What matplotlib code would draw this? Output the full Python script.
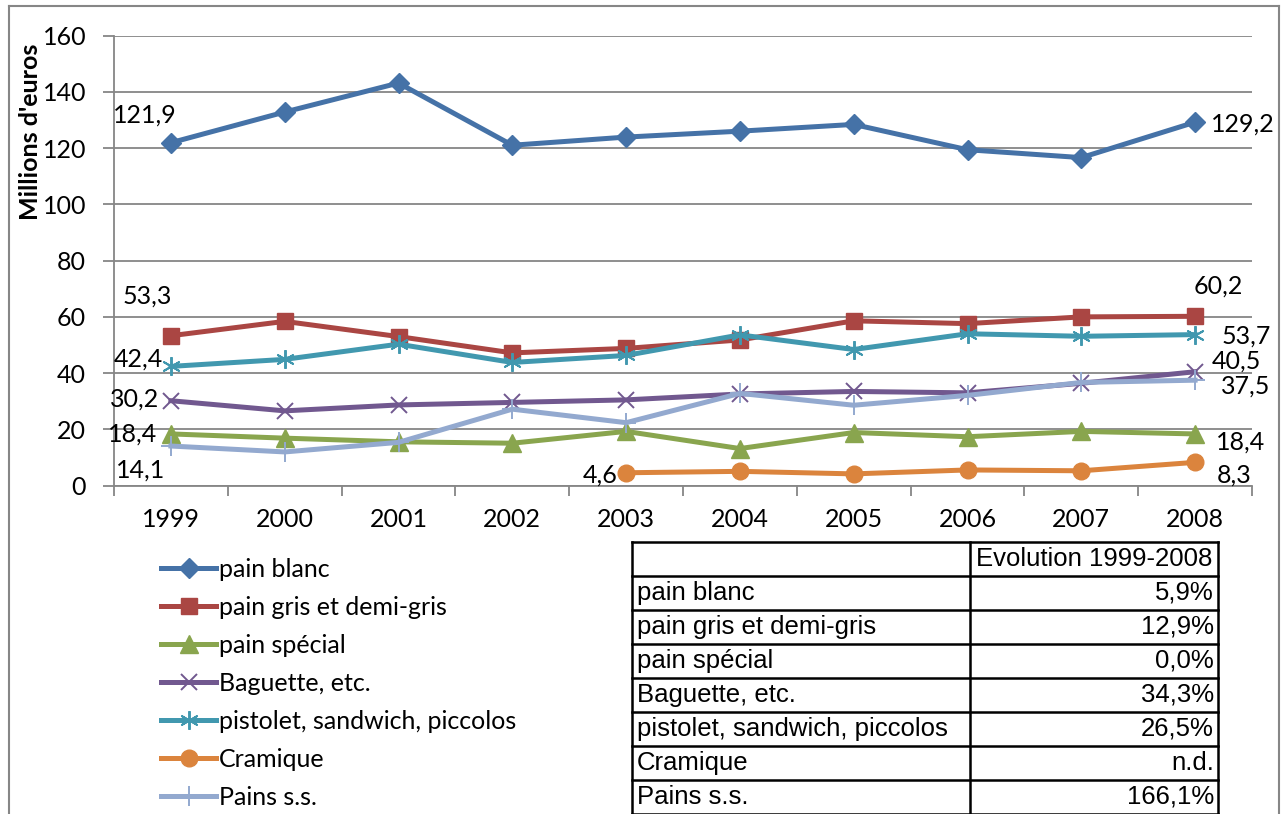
import numpy as np
import matplotlib.pyplot as plt
from matplotlib.lines import Line2D

# ---- data ----
years = [1999, 2000, 2001, 2002, 2003, 2004, 2005, 2006, 2007, 2008]
pain_blanc = [121.9, 132.8, 143.1, 121.0, 123.9, 126.0, 128.4, 119.4, 116.6, 129.2]
pain_gris = [53.3, 58.4, 53.0, 47.2, 48.8, 51.8, 58.6, 57.6, 60.0, 60.2]
pain_special = [18.4, 16.9, 15.6, 15.1, 19.3, 13.2, 18.9, 17.4, 19.3, 18.4]
baguette = [30.2, 26.6, 28.7, 29.6, 30.5, 32.6, 33.5, 33.0, 36.4, 40.5]
pistolet = [42.4, 44.9, 50.3, 43.8, 46.3, 53.6, 48.4, 54.0, 53.1, 53.7]
cramique = [np.nan, np.nan, np.nan, np.nan, 4.6, 5.1, 4.2, 5.6, 5.3, 8.3]
pains_ss = [14.1, 12.0, 15.4, 27.2, 22.4, 32.8, 28.6, 32.1, 36.7, 37.5]

names = ["pain blanc", "pain gris et demi-gris", "pain spécial", "Baguette, etc.",
         "pistolet, sandwich, piccolos", "Cramique", "Pains s.s."]
evolution = ["5,9%", "12,9%", "0,0%", "34,3%", "26,5%", "n.d.", "166,1%"]
table_header = "Evolution 1999-2008"

series = [pain_blanc, pain_gris, pain_special, baguette, pistolet, cramique, pains_ss]
colors = ["#4572A7", "#AA4643", "#89A54E", "#71588F", "#4198AF", "#DB843D", "#93A9CF"]
markers = ["D", "s", "^", "x", (6, 2, 0), "o", "+"]
msizes = [10.5, 12, 12.5, 12, 13.5, 12, 14]

# data labels: (series index, point index, offset px x, offset px y)
labels = [(0, 0, -26, 28), (0, 9, 48, -2),
          (1, 0, -24, 40), (1, 9, 23, 30),
          (4, 0, -33, 7), (4, 9, 51, -1),
          (3, 0, -36, 2), (3, 9, 41, 11),
          (2, 0, -38, 0), (2, 9, 45, -8),
          (6, 0, -30, -24), (6, 9, 51, -6),
          (5, 4, -26, -2), (5, 9, 39, -13)]

W, H = 1287, 814
plt.rcParams["font.family"] = ["Lato", "DejaVu Sans"]
grey = "#868686"

fig = plt.figure(figsize=(W / 100, H / 100), dpi=100)
ax = fig.add_axes([114 / W, 1 - 485.7 / H, (1252 - 114) / W, (485.7 - 35.5) / H])

x = np.arange(len(years))
handles = []
for vals, name, c, m, ms in zip(series, names, colors, markers, msizes):
    h, = ax.plot(x, vals, color=c, lw=3.6, marker=m, ms=ms, mec=c, mfc=c,
                 mew=1.4 if m in ("x", "+") or isinstance(m, tuple) else 1,
                 label=name, clip_on=False)
    handles.append(h)

for si, pi, dx, dy in labels:
    v = series[si][pi]
    ax.annotate(f"{v:.1f}".replace(".", ","), (x[pi], v), xytext=(dx, dy),
                textcoords="offset pixels", ha="center", va="center",
                fontsize=18, color="black")

ax.set_xlim(-0.5, 9.5)
ax.set_ylim(0, 160)
ax.set_yticks(range(0, 161, 20))
ax.grid(axis="y", color=grey, lw=1.3)
ax.set_axisbelow(True)
for s in ["top", "right"]:
    ax.spines[s].set_visible(False)
for s in ["left", "bottom"]:
    ax.spines[s].set_color(grey)
    ax.spines[s].set_linewidth(1.3)
ax.set_xticks(x)
ax.set_xticklabels(years)
ax.set_xticks(np.arange(-0.5, 10, 1), minor=True)
ax.tick_params(axis="x", which="major", length=0, pad=16, labelsize=18)
ax.tick_params(axis="x", which="minor", length=7, color=grey, width=1.3)
ax.tick_params(axis="y", length=8, color=grey, width=1.3, pad=12, labelsize=18)

fig.text(30 / W, 1 - 132 / H, "Millions d'euros", rotation=90, ha="center",
         va="center", fontsize=18, fontweight="bold")

# chart area border
for xs, ys in [([9, 1279], [6, 6]), ([1279, 1279], [6, 814]), ([9, 9], [6, 814])]:
    fig.add_artist(Line2D([xs[0] / W, xs[1] / W], [1 - ys[0] / H, 1 - ys[1] / H],
                          color=grey, lw=1.5, transform=fig.transFigure))

leg = fig.legend(handles=handles, loc="upper left", bbox_to_anchor=(161 / W, 1 - 558 / H),
                 frameon=False, borderaxespad=0, borderpad=0, handlelength=2.2,
                 handletextpad=0.12, labelspacing=0.6, fontsize=18)

# table
tab = fig.add_axes([632 / W, 1 - 813.5 / H, (1218 - 632) / W, (813.5 - 541.7) / H])
tab.set_xlim(0, 586)
tab.set_ylim(8, 0)
tab.axis("off")
for r in range(9):
    tab.plot([0, 586], [r, r], color="black", lw=1.8, clip_on=False, solid_capstyle="projecting")
for cx in [0, 338, 586]:
    tab.plot([cx, cx], [0, 8], color="black", lw=1.8, clip_on=False)
tfont = dict(family=["Liberation Sans", "DejaVu Sans"], fontsize=18.5)
tab.text(344, 0.5, table_header, ha="left", va="center", **tfont)
for i, (n, e) in enumerate(zip(names, evolution)):
    tab.text(5, i + 1.5, n, ha="left", va="center", **tfont)
    tab.text(582, i + 1.5, e, ha="right", va="center", **tfont)

fig.savefig("out.png", dpi=100)
